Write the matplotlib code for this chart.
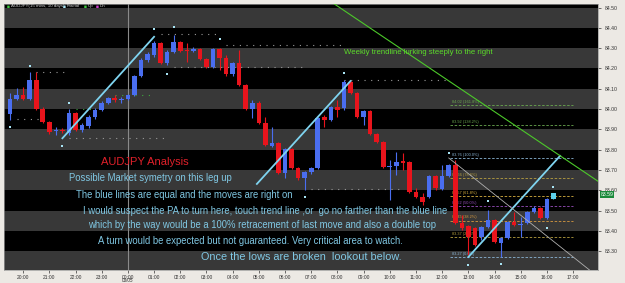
import matplotlib
matplotlib.use('Agg')
import matplotlib.pyplot as plt
import matplotlib.transforms as mtransforms

plt.rcParams['font.family'] = ['Liberation Sans', 'DejaVu Sans']

# AUDJPY 15 min bars, first bar 19:30, last bar 16:15 next day
opens = [83.975, 84.049, 84.069, 84.049, 84.143, 84.000, 83.936, 83.892, 83.897, 83.882,
         83.980, 83.897, 83.916, 83.961, 83.995, 84.030, 84.054, 84.044, 84.049, 84.069,
         84.163, 84.241, 84.266, 84.325, 84.227, 84.281, 84.330, 84.291, 84.286, 84.296,
         84.246, 84.207, 84.296, 84.251, 84.172, 84.227, 84.118, 84.000, 84.030, 83.931,
         83.818, 83.833, 83.685, 83.803, 83.709, 83.660, 83.690, 83.709, 83.961, 83.946,
         84.010, 84.005, 84.133, 84.079, 83.961, 83.990, 83.877, 83.838, 83.714, 83.719,
         83.744, 83.739, 83.591, 83.567, 83.567, 83.670, 83.606, 83.670, 83.724, 83.439,
         83.424, 83.414, 83.370, 83.419, 83.453, 83.340, 83.365, 83.443, 83.429, 83.439,
         83.493, 83.512, 83.463, 83.557]
highs = [84.079, 84.104, 84.108, 84.182, 84.182, 84.010, 83.941, 83.911, 83.906, 84.000,
         83.985, 83.931, 83.971, 84.005, 84.039, 84.059, 84.069, 84.059, 84.074, 84.168,
         84.251, 84.281, 84.335, 84.330, 84.291, 84.365, 84.335, 84.325, 84.305, 84.301,
         84.251, 84.301, 84.301, 84.266, 84.232, 84.291, 84.123, 84.044, 84.039, 83.961,
         83.911, 83.838, 83.808, 83.808, 83.714, 83.695, 83.714, 83.961, 83.971, 84.015,
         84.044, 84.143, 84.138, 84.084, 83.995, 83.995, 83.882, 83.842, 83.749, 83.788,
         83.783, 83.744, 83.611, 83.586, 83.675, 83.675, 83.724, 83.729, 83.749, 83.478,
         83.429, 83.419, 83.424, 83.503, 83.458, 83.370, 83.448, 83.493, 83.468, 83.498,
         83.522, 83.517, 83.562, 83.586]
lows = [83.946, 84.044, 84.044, 84.044, 83.995, 83.931, 83.877, 83.872, 83.882, 83.872,
        83.892, 83.887, 83.906, 83.951, 83.990, 84.025, 84.035, 84.030, 84.044, 84.064,
        84.158, 84.232, 84.256, 84.222, 84.217, 84.276, 84.281, 84.232, 84.281, 84.241,
        84.202, 84.202, 84.192, 84.163, 84.163, 84.113, 83.995, 83.956, 83.926, 83.818,
        83.813, 83.680, 83.660, 83.704, 83.650, 83.601, 83.680, 83.704, 83.911, 83.941,
        83.961, 83.995, 84.074, 83.956, 83.921, 83.872, 83.833, 83.709, 83.552, 83.675,
        83.700, 83.586, 83.562, 83.527, 83.562, 83.601, 83.601, 83.665, 83.434, 83.404,
        83.281, 83.325, 83.355, 83.414, 83.340, 83.271, 83.360, 83.424, 83.370, 83.434,
        83.488, 83.458, 83.458, 83.557]
closes = [84.049, 84.069, 84.049, 84.143, 84.000, 83.936, 83.887, 83.897, 83.892, 83.980,
          83.897, 83.921, 83.961, 83.995, 84.030, 84.054, 84.044, 84.049, 84.069, 84.163,
          84.241, 84.271, 84.325, 84.227, 84.281, 84.330, 84.286, 84.286, 84.296, 84.246,
          84.207, 84.296, 84.251, 84.172, 84.227, 84.118, 84.000, 84.030, 83.931, 83.823,
          83.833, 83.685, 83.803, 83.709, 83.660, 83.690, 83.709, 83.956, 83.946, 84.010,
          83.995, 84.133, 84.079, 83.961, 83.990, 83.877, 83.838, 83.714, 83.719, 83.739,
          83.734, 83.591, 83.567, 83.542, 83.670, 83.611, 83.670, 83.724, 83.439, 83.414,
          83.370, 83.330, 83.419, 83.453, 83.345, 83.365, 83.443, 83.429, 83.434, 83.493,
          83.512, 83.463, 83.557, 83.586]

hour_labels = ['20:00', '21:00', '22:00', '23:00', '00:00', '01:00', '02:00', '03:00',
               '04:00', '05:00', '06:00', '07:00', '08:00', '09:00', '10:00', '11:00',
               '12:00', '13:00', '14:00', '15:00', '16:00', '17:00']
hour_bars = [2 + 4 * k for k in range(len(hour_labels))]
price_ticks = [83.30, 83.40, 83.50, 83.60, 83.70, 83.80, 83.90, 84.00, 84.10, 84.20, 84.30, 84.40, 84.50]

up_frac_bar = [3, 9, 22, 25, 32, 51, 67, 73, 83]
up_frac_px = [84.212, 84.030, 84.394, 84.404, 84.345, 84.177, 83.783, 83.547, 83.616]
dn_frac_bar = [0, 8, 24, 45, 70, 75, 82]
dn_frac_px = [83.911, 83.818, 84.172, 83.567, 83.232, 83.237, 83.414]

# dotted fractal levels
dot_start = [4, 1, 9, 10, 16, 23, 33, 25, 51, 46]
dot_end = [9, 5, 24, 13, 22, 32, 51, 45, 67, 60]
dot_px = [84.182, 83.951, 83.857, 84.000, 84.069, 84.370, 84.315, 84.207, 84.143, 83.606]
dot_green = [0, 0, 0, 1, 1, 0, 0, 0, 0, 0]

# fib extension
fib_pct = ['161.8%', '138.2%', '100.0%', '78.6%', '61.8%', '50.0%', '38.2%', '23.6%', '0.0%']
fib_px = [84.02, 83.92, 83.76, 83.66, 83.57, 83.52, 83.45, 83.37, 83.27]
fib_col = ['#6aa84f', '#6aa84f', '#8ab4d4', '#b8a040', '#d8b040', '#9a50c0', '#d89a40', '#b8a040', '#8ab4d4']

# drawn lines (bar, price)
blue_lines = [((8, 83.856), (22, 84.356)),
              ((37.7, 83.631), (52, 84.138)),
              ((70, 83.271), (84, 83.769))]
green_line = ((48.5, 84.54), (90, 83.64))
gray_line = ((67, 83.759), (88.5, 83.207))

fig = plt.figure(figsize=(6.25, 2.83), dpi=100, facecolor='#ece9e4')
ax = fig.add_axes([4 / 625, 1 - 270 / 283, 594 / 625, 266.5 / 283])
ax.set_facecolor('black')
ax.set_xlim(-0.92, 89.8)
ax.set_ylim(83.207, 84.52)

for k in range(832, 846):
    ax.axhspan(k / 10, (k + 1) / 10, color='#383838' if k % 2 == 0 else '#000000', lw=0, zorder=0)

ax.axvline(18, color='#8a8a8a', lw=0.8, zorder=1)

for s, e, p, g in zip(dot_start, dot_end, dot_px, dot_green):
    ax.plot([s, e], [p, p], color='#3fa83f' if g else '#9a9a9a', lw=0.8,
            ls=(0, (1, 5)), zorder=1)

for p, lab, c in zip(fib_px, fib_pct, fib_col):
    ax.plot([67.2, 86], [p, p], color=c, lw=0.6, ls=(0, (3, 2)), zorder=2)
    ax.text(67.5, p + 0.006, '%.2f (%s)' % (p, lab), color=c, fontsize=2.8, va='bottom', zorder=2)

# candles
for i in range(len(opens)):
    o, h, l, c = opens[i], highs[i], lows[i], closes[i]
    col = '#4a6ef0' if c >= o else '#e8141c'
    if i == len(opens) - 1:
        col = '#5cd0ec'
    ax.vlines(i, l, h, color=col, lw=0.8, zorder=3)
    ax.bar(i, max(abs(c - o), 0.004), bottom=min(o, c), width=0.7, color=col, lw=0, zorder=3)

ax.scatter(up_frac_bar, up_frac_px, marker='s', s=3, color='#a8e4f4', lw=0, zorder=4)
ax.scatter(dn_frac_bar, dn_frac_px, marker='s', s=3, color='#a8e4f4', lw=0, zorder=4)

for (x0, y0), (x1, y1) in blue_lines:
    ax.plot([x0, x1], [y0, y1], color='#7fd4f0', lw=1.3, zorder=5)
ax.plot(*zip(*green_line), color='#4cc82a', lw=0.8, zorder=5)
ax.plot(*zip(*gray_line), color='#b0b0b0', lw=0.6, zorder=5)

ax.yaxis.tick_right()
ax.set_yticks(price_ticks)
ax.set_yticklabels(['%.2f' % p for p in price_ticks])
ax.set_xticks(hour_bars)
ax.set_xticklabels(hour_labels)
ax.tick_params(axis='y', labelsize=3.7, colors='#333333', length=2, width=0.5, pad=3)
ax.tick_params(axis='x', labelsize=3.5, colors='#333333', length=2, width=0.5, pad=1.5)
for sp in ax.spines.values():
    sp.set_color('#9a9a9a')
    sp.set_linewidth(0.5)

ax.annotate('03/05', xy=(18, 0), xycoords=('data', 'axes fraction'), xytext=(0, -11),
            textcoords='offset pixels', ha='center', va='center', fontsize=3.3, color='#333333')

trans = mtransforms.blended_transform_factory(ax.transAxes, ax.transData)
ax.text(1.004, closes[-1] - 0.007, '%.2f' % closes[-1], transform=trans, fontsize=3.7, color='white',
        va='center', ha='left', bbox=dict(fc='#1a8a3a', ec='none', pad=0.6), clip_on=False)

# legend row
fig.text(7 / 625, 1 - 6 / 283, '■', color='#3cc83c', fontsize=3.5, va='center')
fig.text(11 / 625, 1 - 6 / 283, 'AUDJPY(15 mins, 10 days)', color='#cccccc', fontsize=3.2, va='center')
fig.text(63 / 625, 1 - 6 / 283, '■', color='#a8e4f4', fontsize=3.5, va='center')
fig.text(67 / 625, 1 - 6 / 283, 'Fractal', color='#cccccc', fontsize=3.2, va='center')
fig.text(84 / 625, 1 - 6 / 283, '■', color='#3cc83c', fontsize=3.5, va='center')
fig.text(88 / 625, 1 - 6 / 283, 'Up', color='#cccccc', fontsize=3.2, va='center')
fig.text(96 / 625, 1 - 6 / 283, '■', color='#d040d0', fontsize=3.5, va='center')
fig.text(100 / 625, 1 - 6 / 283, 'Dn', color='#cccccc', fontsize=3.2, va='center')

# annotations
fig.text(344 / 625, 1 - 52 / 283, 'Weekly trendline lurking steeply to the right',
         color='#5cdc2a', fontsize=5.6, va='center')
fig.text(145 / 625, 1 - 162 / 283, 'AUDJPY Analysis', color='#e0202a', fontsize=8.0,
         va='center', ha='center')
notes = ['Possible Market symetry on this leg up',
         'The blue lines are equal and the moves are right on',
         'I would suspect the PA to turn here, touch trend line ,or  go no farther than the blue line',
         'which by the way would be a 100% retracement of last move and also a double top',
         'A turn would be expected but not guaranteed. Very critical area to watch.']
note_x = [69, 76, 83, 88, 98]
note_y = [178, 195, 210.5, 225.5, 241]
for t, x, y in zip(notes, note_x, note_y):
    fig.text(x / 625, 1 - y / 283, t, color='#80c8e4', fontsize=6.85, va='center')
fig.text(201 / 625, 1 - 257.5 / 283, 'Once the lows are broken  lookout below.',
         color='#80c8e4', fontsize=7.85, va='center')

fig.savefig('out.png', dpi=100, facecolor=fig.get_facecolor())
